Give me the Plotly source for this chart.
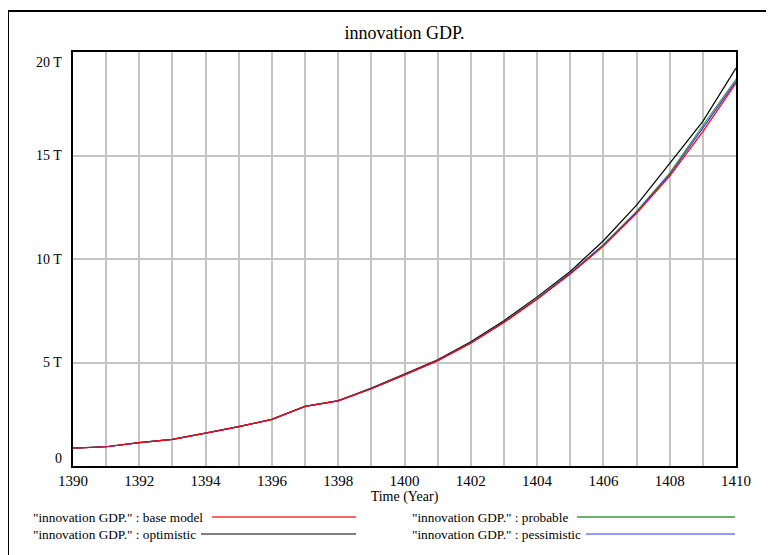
import plotly.graph_objects as go

years = list(range(1390, 1411))
base_model = [0.86, 0.93, 1.13, 1.29, 1.59, 1.90, 2.25, 2.88, 3.15, 3.73, 4.40, 5.09, 5.93, 6.93, 8.05, 9.27, 10.62, 12.20, 14.00, 16.15, 18.49]
optimistic = [0.86, 0.93, 1.13, 1.29, 1.59, 1.90, 2.25, 2.88, 3.16, 3.76, 4.44, 5.13, 6.00, 7.02, 8.17, 9.40, 10.88, 12.60, 14.62, 16.65, 19.22]
probable = [0.86, 0.93, 1.13, 1.29, 1.59, 1.90, 2.25, 2.88, 3.15, 3.74, 4.41, 5.10, 5.95, 6.96, 8.09, 9.32, 10.70, 12.30, 14.15, 16.45, 18.68]
pessimistic = [0.86, 0.93, 1.13, 1.29, 1.59, 1.90, 2.25, 2.88, 3.15, 3.73, 4.40, 5.09, 5.94, 6.94, 8.07, 9.30, 10.66, 12.25, 14.07, 16.30, 18.58]

y_ticks = [0, 5, 10, 15, 20]
y_tick_labels = ["0", "5 T", "10 T", "15 T", "20 T"]
x_ticks = list(range(1390, 1411, 2))

title = "innovation GDP."
series = [
    ('"innovation GDP." : optimistic', optimistic, "#000000", "#555555"),
    ('"innovation GDP." : probable', probable, "#2e9a2e", "#3a9a3a"),
    ('"innovation GDP." : pessimistic', pessimistic, "#3333ff", "#7373ff"),
    ('"innovation GDP." : base model', base_model, "#ff0000", "#ff3030"),
]

FONT = "Liberation Serif"

fig = go.Figure()
for name, vals, col, _ in series:
    fig.add_trace(go.Scatter(x=years, y=vals, mode="lines", name=name,
                             line=dict(color=col, width=1.2), showlegend=False))

OFF = 8  # page body margin
W, H = 774 - OFF, 555 - OFF
L, R, T, B = 73 - OFF, 38, 52 - OFF, 89
pw, ph = W - L - R, H - T - B


def px(x):
    return (x - OFF - L) / pw


def py(y):
    return (H - B - (y - OFF)) / ph


shapes = []
annotations = []

# outer frame (top & left)
shapes.append(dict(type="line", xref="paper", yref="paper", x0=px(8), x1=px(780), y0=py(11), y1=py(11),
                   line=dict(color="black", width=2)))
shapes.append(dict(type="line", xref="paper", yref="paper", x0=px(8), x1=px(8), y0=py(11), y1=py(560),
                   line=dict(color="black", width=2)))

# y tick labels
shifts = {0: 8, 4: -10}
for i, (v, lab) in enumerate(zip(y_ticks, y_tick_labels)):
    annotations.append(dict(x=0, xref="paper", y=v, yref="y", text=lab, showarrow=False,
                            xanchor="right", yanchor="middle", xshift=-9, yshift=shifts.get(i, 0),
                            font=dict(family=FONT, size=14, color="black")))

# legend (custom, text then line)
legend_items = [
    (series[3][0], series[3][3], 31, 517, 212, 356),
    (series[0][0], series[0][3], 31, 534, 201, 356),
    (series[1][0], series[1][3], 410, 517, 577, 735),
    (series[2][0], series[2][3], 410, 534, 586, 735),
]
for text, col, tx, ty, lx0, lx1 in legend_items:
    annotations.append(dict(x=px(tx), xref="paper", y=py(ty), yref="paper", text=text, showarrow=False,
                            xanchor="left", yanchor="middle",
                            font=dict(family=FONT, size=13.3, color="black")))
    shapes.append(dict(type="line", xref="paper", yref="paper", x0=px(lx0), x1=px(lx1),
                       y0=py(ty), y1=py(ty), line=dict(color=col, width=1.5)))

fig.update_layout(
    width=W, height=H,
    margin=dict(l=L, r=R, t=T, b=B),
    paper_bgcolor="white", plot_bgcolor="white",
    title=dict(text=title, x=(L + pw / 2) / W, xanchor="center", y=1 - (33 - OFF) / H, yanchor="middle",
               font=dict(family=FONT, size=18, color="black")),
    font=dict(family=FONT, size=14, color="black"),
    shapes=shapes, annotations=annotations,
    xaxis=dict(range=[1390, 1410], tickvals=x_ticks, ticktext=[str(v) for v in x_ticks],
               showgrid=True, gridcolor="#c4c4c4", gridwidth=1.5,
               minor=dict(dtick=1, showgrid=True, gridcolor="#c4c4c4", gridwidth=1.5),
               showline=True, linecolor="black", linewidth=2, mirror=True, ticks="",
               zeroline=False, tickfont=dict(family=FONT, size=15),
               title=dict(text="Time (Year)", font=dict(family=FONT, size=14), standoff=2)),
    yaxis=dict(range=[0, 20], tickvals=y_ticks, showticklabels=False,
               showgrid=True, gridcolor="#c4c4c4", gridwidth=1.5,
               showline=True, linecolor="black", linewidth=2, mirror=True, ticks="",
               zeroline=False),
)

fig.write_html("out.html")
